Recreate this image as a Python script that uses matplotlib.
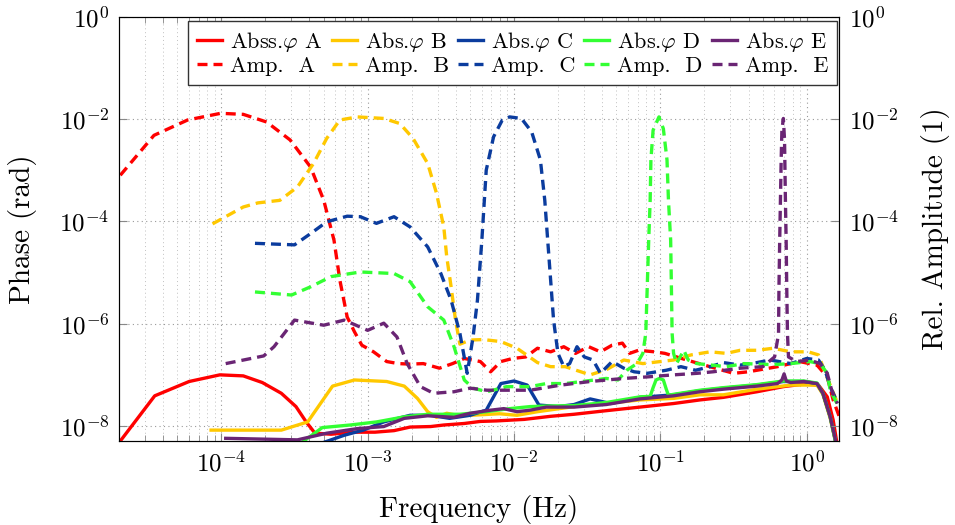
import numpy as np
import matplotlib
matplotlib.use('Agg')
import matplotlib.pyplot as plt
from matplotlib.ticker import LogLocator, NullLocator

plt.rcParams['font.family'] = 'cmr10'
plt.rcParams['mathtext.fontset'] = 'cm'
plt.rcParams['axes.formatter.use_mathtext'] = True
plt.rcParams['axes.unicode_minus'] = False

# values, as log10 of frequency (Hz) and of amplitude

# Abs. phase (solid lines)
abs_A_f = [-4.70, -4.455, -4.22, -4.01, -3.85, -3.72, -3.59, -3.49, -3.42, -3.36, -3.25, -3.10, -2.95, -2.82,
           -2.71, -2.57, -2.48, -2.34, -2.23, -2.12, -1.93, -1.75, -1.59, -1.37, -1.14, -0.91, -0.73, -0.57,
           -0.34, -0.16, -0.02, 0.08, 0.14, 0.18, 0.21]
abs_A_v = [-8.33, -7.41, -7.13, -7.00, -7.02, -7.15, -7.36, -7.62, -7.92, -8.14, -8.16, -8.12, -8.12, -8.09,
           -8.02, -8.01, -7.98, -7.95, -7.91, -7.90, -7.87, -7.81, -7.77, -7.70, -7.63, -7.56, -7.49, -7.44,
           -7.33, -7.23, -7.18, -7.20, -7.43, -7.88, -8.40]

abs_B_f = [-4.07, -3.59, -3.41, -3.24, -3.09, -2.87, -2.75, -2.66, -2.59, -2.53, -2.46, -2.37, -2.23, -2.10,
           -1.98, -1.84, -1.59, -1.37, -1.14, -0.91, -0.73, -0.57, -0.34, -0.11, 0.07, 0.11, 0.16, 0.20]
abs_B_v = [-8.08, -8.08, -7.92, -7.22, -7.10, -7.13, -7.22, -7.46, -7.72, -7.83, -7.75, -7.80, -7.78, -7.76,
           -7.79, -7.72, -7.62, -7.56, -7.49, -7.46, -7.39, -7.39, -7.28, -7.20, -7.20, -7.38, -7.85, -8.35]

abs_C_f = [-3.33, -3.16, -3.03, -2.89, -2.71, -2.57, -2.44, -2.30, -2.19, -2.09, -2.00, -1.91, -1.83, -1.70,
           -1.59, -1.48, -1.34, -1.14, -0.91, -0.73, -0.57, -0.34, -0.16, -0.02, 0.07, 0.11, 0.16, 0.20]
abs_C_v = [-8.35, -8.18, -8.08, -7.92, -7.79, -7.79, -7.85, -7.79, -7.69, -7.17, -7.12, -7.20, -7.59, -7.62,
           -7.58, -7.47, -7.56, -7.44, -7.39, -7.31, -7.26, -7.20, -7.13, -7.13, -7.17, -7.36, -7.82, -8.35]

abs_D_f = [-3.44, -3.31, -3.12, -2.94, -2.75, -2.59, -2.37, -2.19, -2.03, -1.89, -1.78, -1.59, -1.37, -1.14,
           -1.07, -1.05, -1.03, -1.007, -0.98, -0.96, -0.945, -0.91, -0.73, -0.57, -0.34, -0.16, -0.02, 0.07,
           0.11, 0.16, 0.20]
abs_D_v = [-8.30, -8.03, -7.98, -7.92, -7.82, -7.77, -7.77, -7.72, -7.66, -7.62, -7.61, -7.60, -7.54, -7.43,
           -7.42, -7.25, -7.10, -7.07, -7.10, -7.28, -7.40, -7.38, -7.30, -7.25, -7.19, -7.12, -7.12, -7.16,
           -7.36, -7.82, -8.35]

abs_E_f = [-3.97, -3.48, -3.28, -3.07, -2.89, -2.75, -2.59, -2.41, -2.30, -2.16, -2.07, -1.98, -1.89, -1.78,
           -1.59, -1.37, -1.14, -0.91, -0.73, -0.57, -0.34, -0.20, -0.17, -0.155, -0.14, -0.11, -0.02, 0.07,
           0.11, 0.16, 0.21]
abs_E_v = [-8.24, -8.27, -8.14, -8.05, -8.01, -7.85, -7.80, -7.83, -7.75, -7.69, -7.66, -7.72, -7.69, -7.63,
           -7.63, -7.58, -7.47, -7.41, -7.33, -7.28, -7.22, -7.17, -7.10, -6.98, -7.12, -7.15, -7.13, -7.17,
           -7.36, -7.82, -8.45]

# Rel. amplitude (dashed lines)
amp_A_f = [-4.69, -4.46, -4.23, -4.005, -3.85, -3.69, -3.53, -3.39, -3.30, -3.23, -3.19, -3.14, -3.09, -3.04,
           -2.96, -2.87, -2.79, -2.71, -2.62, -2.51, -2.42, -2.34, -2.23, -2.16, -2.09, -2.01, -1.92, -1.84,
           -1.75, -1.66, -1.58, -1.49, -1.41, -1.33, -1.26, -1.21, -1.15, -1.04, -0.97, -0.82, -0.65, -0.50,
           -0.40, -0.20, -0.05, 0.07, 0.14, 0.18, 0.22]
amp_A_v = [-3.10, -2.32, -2.02, -1.89, -1.91, -2.06, -2.41, -2.94, -3.59, -4.37, -5.15, -5.87, -6.16, -6.42,
           -6.55, -6.74, -6.78, -6.79, -6.78, -6.87, -6.78, -6.68, -6.74, -6.94, -6.74, -6.68, -6.65, -6.48,
           -6.55, -6.45, -6.58, -6.45, -6.55, -6.42, -6.38, -6.58, -6.52, -6.55, -6.58, -6.71, -6.85, -6.97,
           -6.94, -6.84, -6.74, -6.81, -7.04, -7.49, -7.80]

amp_B_f = [-4.06, -3.85, -3.75, -3.60, -3.48, -3.37, -3.28, -3.19, -3.07, -2.89, -2.78, -2.69, -2.59, -2.53,
           -2.48, -2.46, -2.43, -2.40, -2.37, -2.30, -2.21, -2.09, -1.98, -1.91, -1.84, -1.75, -1.65, -1.48,
           -1.37, -1.25, -1.12, -0.91, -0.79, -0.66, -0.55, -0.455, -0.34, -0.23, -0.11, 0.01, 0.08, 0.11,
           0.16, 0.21]
amp_B_v = [-4.05, -3.72, -3.64, -3.59, -3.33, -2.87, -2.38, -2.02, -1.96, -1.99, -2.09, -2.38, -2.87, -3.45,
           -4.11, -4.69, -5.28, -5.93, -6.40, -6.32, -6.31, -6.35, -6.48, -6.62, -6.76, -6.84, -6.84, -7.00,
           -6.90, -6.71, -6.78, -6.71, -6.61, -6.55, -6.58, -6.52, -6.52, -6.48, -6.55, -6.55, -6.61, -6.84,
           -7.20, -7.55]

amp_C_f = [-3.77, -3.50, -3.39, -3.28, -3.14, -3.05, -2.94, -2.82, -2.71, -2.59, -2.50, -2.43, -2.37, -2.32,
           -2.28, -2.25, -2.22, -2.19, -2.14, -2.08, -2.03, -1.95, -1.88, -1.82, -1.79, -1.77, -1.75, -1.73,
           -1.70, -1.66, -1.62, -1.57, -1.52, -1.46, -1.41, -1.33, -1.25, -1.18, -1.09, -0.96, -0.86, -0.76,
           -0.66, -0.57, -0.455, -0.34, -0.25, -0.11, 0.00, 0.08, 0.125, 0.16, 0.21]
amp_C_v = [-4.43, -4.46, -4.24, -4.01, -3.90, -3.91, -4.04, -3.91, -4.11, -4.50, -5.02, -5.54, -6.19, -6.97,
           -6.26, -5.54, -4.37, -3.00, -2.35, -2.02, -1.96, -1.99, -2.25, -2.80, -3.59, -4.37, -5.15, -5.93,
           -6.58, -6.84, -6.78, -6.45, -6.65, -6.71, -6.97, -6.74, -6.87, -6.94, -6.97, -6.91, -6.84, -6.91,
           -6.84, -6.76, -6.81, -6.76, -6.71, -6.78, -6.68, -6.71, -6.91, -7.23, -7.55]

amp_D_f = [-3.77, -3.52, -3.39, -3.25, -3.05, -2.82, -2.71, -2.59, -2.48, -2.41, -2.34, -2.28, -2.185, -2.05,
           -1.89, -1.78, -1.65, -1.45, -1.37, -1.29, -1.23, -1.16, -1.12, -1.10, -1.09, -1.08, -1.07, -1.065,
           -1.05, -1.01, -0.98, -0.955, -0.945, -0.93, -0.925, -0.92, -0.91, -0.89, -0.84, -0.81, -0.75, -0.55,
           -0.43, -0.23, -0.11, 0.02, 0.09, 0.14, 0.16, 0.21]
amp_D_v = [-5.38, -5.44, -5.28, -5.08, -4.99, -5.02, -5.18, -5.67, -5.93, -6.45, -7.10, -7.26, -7.33, -7.23,
           -7.23, -7.17, -7.17, -7.10, -7.07, -7.10, -6.91, -6.78, -6.58, -6.19, -5.28, -4.37, -3.59, -2.80,
           -2.22, -1.96, -2.19, -2.80, -3.59, -4.37, -5.28, -6.19, -6.58, -6.78, -6.52, -6.71, -6.78, -6.84,
           -6.78, -6.80, -6.78, -6.74, -6.78, -6.97, -7.30, -7.58]

amp_E_f = [-3.97, -3.71, -3.64, -3.50, -3.30, -3.16, -3.00, -2.89, -2.80, -2.73, -2.64, -2.55, -2.41, -2.30,
           -2.185, -1.89, -1.68, -1.48, -1.25, -1.09, -0.91, -0.75, -0.64, -0.455, -0.30, -0.22, -0.20, -0.193,
           -0.19, -0.185, -0.18, -0.175, -0.17, -0.16, -0.152, -0.146, -0.141, -0.137, -0.132, -0.125, -0.07,
           0.02, 0.09, 0.14, 0.17, 0.21]
amp_E_v = [-6.78, -6.63, -6.45, -5.93, -6.03, -5.93, -6.13, -5.99, -6.26, -6.78, -7.23, -7.36, -7.33, -7.26,
           -7.30, -7.30, -7.20, -7.13, -7.07, -7.04, -7.00, -6.97, -6.94, -6.87, -6.84, -6.65, -6.32, -6.19,
           -5.28, -4.37, -3.59, -2.80, -2.22, -1.99, -2.41, -3.59, -4.37, -5.28, -6.19, -6.65, -6.74, -6.71,
           -6.78, -6.97, -7.30, -7.56]

names = ['A', 'B', 'C', 'D', 'E']
colors = ['#ff0000', '#ffc800', '#0b3c9e', '#33ff33', '#6a2574']
abs_f = [abs_A_f, abs_B_f, abs_C_f, abs_D_f, abs_E_f]
abs_v = [abs_A_v, abs_B_v, abs_C_v, abs_D_v, abs_E_v]
amp_f = [amp_A_f, amp_B_f, amp_C_f, amp_D_f, amp_E_f]
amp_v = [amp_A_v, amp_B_v, amp_C_v, amp_D_v, amp_E_v]

fig = plt.figure(figsize=(9.55, 5.25), dpi=100)
ax = fig.add_axes([119/955, 1 - 441/525, 720/955, 424.4/525])

lw = 2.4
solid = []
for i in range(5):
    l, = ax.plot(10**np.array(abs_f[i]), 10**np.array(abs_v[i]), color=colors[i], lw=lw,
                 label=('Abss.' if i == 0 else 'Abs.') + r'$\varphi$ ' + names[i])
    solid.append(l)
dashed = []
for i in range(5):
    l, = ax.plot(10**np.array(amp_f[i]), 10**np.array(amp_v[i]), color=colors[i], lw=lw,
                 dashes=(3.0, 1.8), label='Amp.  ' + names[i])
    dashed.append(l)

ax.set_xscale('log')
ax.set_yscale('log')
ax.set_xlim(2.0e-5, 1.66)
ax.set_ylim(5.1e-9, 1)
ax.set_xticks([1e-4, 1e-3, 1e-2, 1e-1, 1])
ax.xaxis.set_minor_locator(LogLocator(base=10, subs=np.arange(2, 10)))
ax.set_yticks([1e-8, 1e-6, 1e-4, 1e-2, 1])
ax.yaxis.set_minor_locator(NullLocator())

ax.grid(which='major', ls=(0, (1, 3)), color='#999999', lw=0.8)
ax.grid(which='minor', axis='x', ls=(0, (1, 3)), color='#c0c0c0', lw=0.7)
ax.tick_params(which='both', direction='in', top=True, right=False, color='#888888', labelsize=18, pad=7)
ax.tick_params(which='major', length=6)
ax.tick_params(which='minor', length=4)
for s in ax.spines.values():
    s.set_color('#333333')

ax2 = ax.twinx()
ax2.set_yscale('log')
ax2.set_ylim(ax.get_ylim())
ax2.set_yticks([1e-8, 1e-6, 1e-4, 1e-2, 1])
ax2.yaxis.set_minor_locator(NullLocator())
ax2.tick_params(direction='in', color='#888888', length=6, labelsize=18, pad=7)

ax.set_xlabel('Frequency (Hz)', fontsize=21, labelpad=13)
ax.set_ylabel('Phase (rad)', fontsize=21, labelpad=16)
ax2.set_ylabel('Rel. Amplitude (1)', fontsize=21, labelpad=16)

handles = []
for i in range(5):
    handles += [solid[i], dashed[i]]
leg = ax2.legend(handles=handles, ncol=5, loc='upper right', bbox_to_anchor=(837/955, 1 - 21/525),
                 bbox_transform=fig.transFigure, fontsize=16, frameon=True, fancybox=False,
                 edgecolor='#333333', framealpha=1, handlelength=1.13, handletextpad=0.36,
                 columnspacing=0.4, labelspacing=0.1, borderpad=0.4, borderaxespad=0)
leg.get_frame().set_linewidth(1.0)

fig.savefig('out.png', dpi=100)
